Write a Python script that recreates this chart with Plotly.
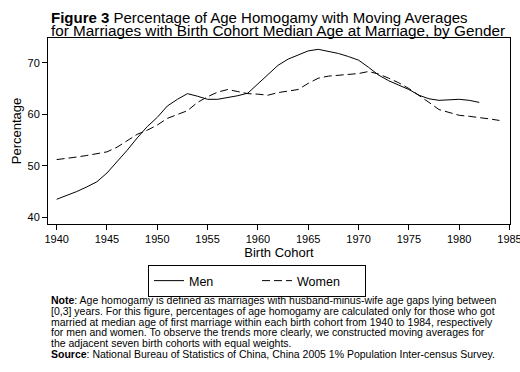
import plotly.graph_objects as go

men_years = list(range(1940, 1983))
men_values = [43.5, 44.2, 45.0, 45.9, 46.9, 48.6, 50.7, 53.0, 55.4, 57.6,
              59.4, 61.6, 62.9, 64.0, 63.5, 62.9, 62.9, 63.2, 63.6, 64.1,
              65.9, 67.8, 69.5, 70.7, 71.5, 72.3, 72.6, 72.2, 71.8, 71.2,
              70.5, 69.1, 67.6, 66.5, 65.6, 64.8, 63.7, 63.0, 62.7, 62.8,
              62.9, 62.7, 62.3]
women_years = list(range(1940, 1985))
women_values = [51.2, 51.4, 51.7, 52.0, 52.3, 52.7, 53.6, 54.8, 56.1, 56.9,
                57.9, 59.2, 59.9, 60.7, 62.3, 63.4, 64.3, 64.8, 64.4, 64.0,
                63.9, 63.7, 64.2, 64.5, 64.8, 66.0, 67.0, 67.4, 67.6, 67.7,
                67.9, 68.3, 67.8, 67.0, 66.1, 65.0, 63.7, 62.3, 60.9, 60.3,
                59.8, 59.6, 59.4, 59.1, 58.8]
x_ticks = [1940, 1945, 1950, 1955, 1960, 1965, 1970, 1975, 1980, 1985]
y_ticks = [40, 50, 60, 70]

title_line1 = "<b>Figure 3</b> Percentage of Age Homogamy with Moving Averages"
title_line2 = "for Marriages with Birth Cohort Median Age at Marriage, by Gender"
note_lines = [
    "<b>Note</b>: Age homogamy is defined as marriages with husband-minus-wife age gaps lying between",
    "[0,3] years. For this figure, percentages of age homogamy are calculated only for those who got",
    "married at median age of first marriage within each birth cohort from 1940 to 1984, respectively",
    "for men and women. To observe the trends more clearly, we constructed moving averages for",
    "the adjacent seven birth cohorts with equal weights.",
    "<b>Source</b>: National Bureau of Statistics of China, China 2005 1% Population Inter-census Survey.",
]

FONT = "Liberation Sans, Arial, sans-serif"

fig = go.Figure()
fig.add_trace(go.Scatter(x=men_years, y=men_values, mode="lines", name="Men",
                         line=dict(color="black", width=1)))
fig.add_trace(go.Scatter(x=women_years, y=women_values, mode="lines", name="Women",
                         line=dict(color="black", width=1, dash="8px,4px")))

W, H = 520, 372
L, R, T, B = 48, 10, 38, 148
pw, ph = W - L - R, H - T - B

def px_x(x):
    return (x - L) / pw

def px_y(y):
    return (H - B - y) / ph

annotations = [
    dict(text=title_line1, x=px_x(49), y=px_y(17.5), xref="paper", yref="paper",
         xanchor="left", yanchor="middle", showarrow=False,
         font=dict(family=FONT, size=15, color="black")),
    dict(text=title_line2, x=px_x(49), y=px_y(30), xref="paper", yref="paper",
         xanchor="left", yanchor="middle", showarrow=False,
         font=dict(family=FONT, size=15.3, color="black")),
]
for i, line in enumerate(note_lines):
    annotations.append(dict(text=line, x=px_x(49), y=px_y(300 + i * 10.8),
                            xref="paper", yref="paper", xanchor="left", yanchor="middle",
                            showarrow=False,
                            font=dict(family=FONT, size=10.5, color="black")))

fig.update_layout(
    width=W, height=H,
    margin=dict(l=L, r=R, t=T, b=B, pad=0, autoexpand=False),
    paper_bgcolor="white", plot_bgcolor="white",
    font=dict(family=FONT, color="black"),
    showlegend=True,
    legend=dict(orientation="h", x=px_x(148), xanchor="left", y=px_y(265), yanchor="top",
                bordercolor="black", borderwidth=1, bgcolor="white",
                font=dict(family=FONT, size=12.5, color="black"),
                itemwidth=30, entrywidth=63, tracegroupgap=0),
    xaxis=dict(range=[1939.14, 1985.05], tickvals=x_ticks, ticks="outside", ticklen=5,
               tickcolor="black", showline=True, linecolor="black", linewidth=1, mirror=True,
               showgrid=False, zeroline=False, tickfont=dict(size=11, family=FONT),
               automargin=False, ticklabeloverflow="allow",
               title=dict(text="Birth Cohort", font=dict(size=13, family=FONT), standoff=0)),
    yaxis=dict(range=[38.7, 74.8], tickvals=y_ticks, ticks="outside", ticklen=5,
               tickcolor="black", showline=True, linecolor="black", linewidth=1, mirror=True,
               showgrid=False, zeroline=False, tickfont=dict(size=11, family=FONT),
               automargin=False,
               title=dict(text="Percentage", font=dict(size=13, family=FONT), standoff=2)),
    annotations=annotations,
)

fig.write_html("out.html", config={"displayModeBar": False},
               post_script="document.body.style.margin='0';")
